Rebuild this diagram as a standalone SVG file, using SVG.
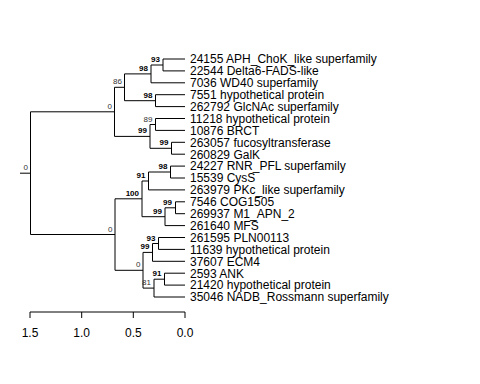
<svg xmlns="http://www.w3.org/2000/svg" width="480" height="384" viewBox="0 0 480 384">
<style>
.e{stroke:#000;stroke-width:1;fill:none}
.leaf{font-family:"Liberation Sans",Arial,sans-serif;font-size:12px;fill:#000}
.bs{font-family:"Liberation Sans",Arial,sans-serif;font-size:8px;fill:#000;text-anchor:end;font-weight:bold}
.bn{font-family:"Liberation Sans",Arial,sans-serif;font-size:8px;fill:#333;text-anchor:end}
.ax{font-family:"Liberation Sans",Arial,sans-serif;font-size:12px;fill:#000;text-anchor:middle}
</style>
<rect width="480" height="384" fill="#fff"/>
<g id="connectors">
<!-- root -->
<path class="e" d="M20 173.2H30.5M30.5 111.8V234.5M30.5 111.8H114.5M30.5 234.5H115"/>
<!-- upper clade -->
<path class="e" d="M114.5 87.3V136.4M114.5 87.3H124.5M114.5 136.4H150"/>
<path class="e" d="M124.5 73.9V100.7M124.5 73.9H151M124.5 100.7H155.5"/>
<path class="e" d="M151 65V82.8M151 65H163M151 82.8H185"/>
<path class="e" d="M163 59V70.9M163 59H185M163 70.9H185"/>
<path class="e" d="M155.5 94.7V106.6M155.5 94.7H185M155.5 106.6H185"/>
<path class="e" d="M150 124.5V148.3M150 124.5H155.5M150 148.3H171.5"/>
<path class="e" d="M155.5 118.5V130.4M155.5 118.5H185M155.5 130.4H185"/>
<path class="e" d="M171.5 142.3V154.2M171.5 142.3H185M171.5 154.2H185"/>
<!-- lower clade -->
<path class="e" d="M115 198.8V270.3M115 198.8H142M115 270.3H143"/>
<path class="e" d="M142 181V216.7M142 181H148.5M142 216.7H165"/>
<path class="e" d="M148.5 172V189.9M148.5 172H170.5M148.5 189.9H185"/>
<path class="e" d="M170.5 166.1V178M170.5 166.1H185M170.5 178H185"/>
<path class="e" d="M165 207.8V225.6M165 207.8H175.5M165 225.6H185"/>
<path class="e" d="M175.5 201.8V213.7M175.5 201.8H185M175.5 213.7H185"/>
<path class="e" d="M143 252.4V288.1M143 252.4H152.5M143 288.1H154"/>
<path class="e" d="M152.5 243.5V261.3M152.5 243.5H158.5M152.5 261.3H185"/>
<path class="e" d="M158.5 237.5V249.4M158.5 237.5H185M158.5 249.4H185"/>
<path class="e" d="M154 279.2V297M154 279.2H164.5M154 297H185"/>
<path class="e" d="M164.5 273.2V285.1M164.5 273.2H185M164.5 285.1H185"/>
</g>
<g id="support">
<text class="bn" x="28" y="170">0</text>
<text class="bn" x="112" y="108.8">0</text>
<text class="bn" x="122" y="84.3">86</text>
<text class="bs" x="148" y="70.9">98</text>
<text class="bs" x="160" y="62">93</text>
<text class="bs" x="152.5" y="97.7">98</text>
<text class="bs" x="147" y="133.4">99</text>
<text class="bn" x="152.5" y="121.5">89</text>
<text class="bs" x="168.5" y="145.3">99</text>
<text class="bn" x="112.5" y="231.5">0</text>
<text class="bs" x="139" y="195.8">100</text>
<text class="bs" x="145.5" y="178">91</text>
<text class="bs" x="167.5" y="169">98</text>
<text class="bs" x="162" y="213.7">99</text>
<text class="bs" x="172" y="204.8">99</text>
<text class="bn" x="140.5" y="267.3">0</text>
<text class="bs" x="149.5" y="249.4">99</text>
<text class="bs" x="155.5" y="240.5">93</text>
<text class="bn" x="151" y="285.1">81</text>
<text class="bs" x="161.5" y="276.2">91</text>
</g>
<g id="leaves">
<text class="leaf" x="190" y="63.3">24155 APH_ChoK_like superfamily</text>
<text class="leaf" x="190" y="75.2">22544 Delta6-FADS-like</text>
<text class="leaf" x="190" y="87.1">7036 WD40 superfamily</text>
<text class="leaf" x="190" y="99">7551 hypothetical protein</text>
<text class="leaf" x="190" y="110.9">262792 GlcNAc superfamily</text>
<text class="leaf" x="190" y="122.8">11218 hypothetical protein</text>
<text class="leaf" x="190" y="134.7">10876 BRCT</text>
<text class="leaf" x="190" y="146.6">263057 fucosyltransferase</text>
<text class="leaf" x="190" y="158.5">260829 GalK</text>
<text class="leaf" x="190" y="170.4">24227 RNR_PFL superfamily</text>
<text class="leaf" x="190" y="182.3">15539 CysS</text>
<text class="leaf" x="190" y="194.2">263979 PKc_like superfamily</text>
<text class="leaf" x="190" y="206.1">7546 COG1505</text>
<text class="leaf" x="190" y="218">269937 M1_APN_2</text>
<text class="leaf" x="190" y="229.9">261640 MFS</text>
<text class="leaf" x="190" y="241.8">261595 PLN00113</text>
<text class="leaf" x="190" y="253.7">11639 hypothetical protein</text>
<text class="leaf" x="190" y="265.6">37607 ECM4</text>
<text class="leaf" x="190" y="277.5">2593 ANK</text>
<text class="leaf" x="190" y="289.4">21420 hypothetical protein</text>
<text class="leaf" x="190" y="301.3">35046 NADB_Rossmann superfamily</text>
</g>
<g id="axis">
<path class="e" d="M30 312H185M30 312V318M81.7 312V318M133.3 312V318M185 312V318"/>
<text class="ax" x="30" y="337">1.5</text>
<text class="ax" x="81.7" y="337">1.0</text>
<text class="ax" x="133.3" y="337">0.5</text>
<text class="ax" x="185" y="337">0.0</text>
</g>
</svg>
